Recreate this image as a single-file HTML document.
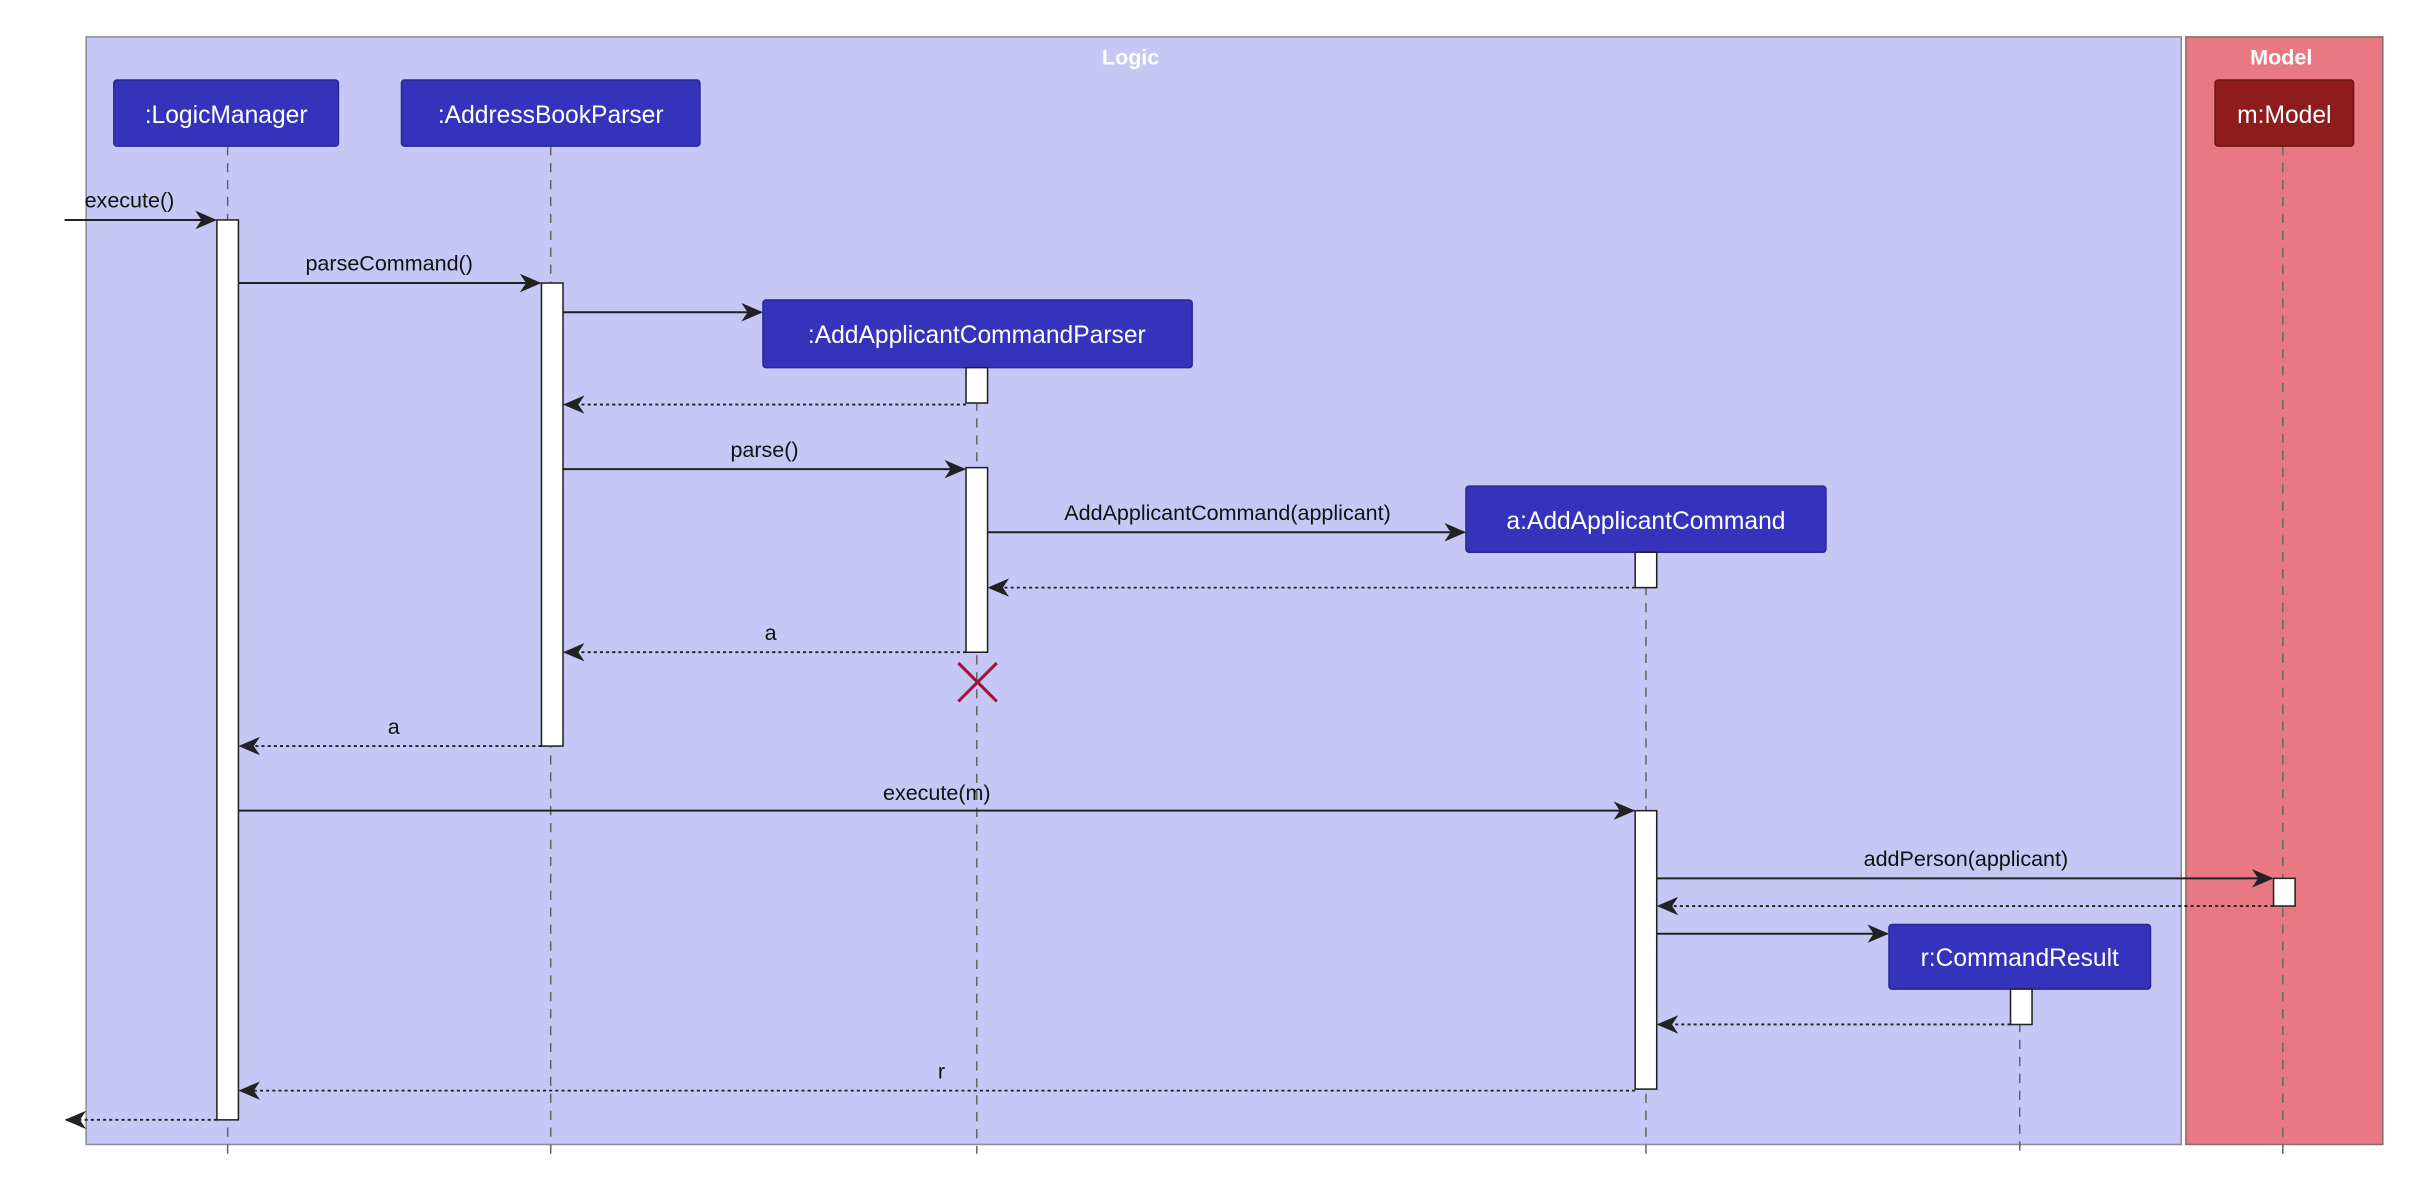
<!DOCTYPE html>
<html><head><meta charset="utf-8"><style>html,body{margin:0;padding:0;background:#fff}svg{display:block}</style></head>
<body>
<svg width="2412" height="1202" viewBox="0 0 1568 781.4" xmlns="http://www.w3.org/2000/svg" font-family="Liberation Sans, sans-serif">
<defs>
<marker id="ah" viewBox="0 0 14 12" refX="13" refY="6" markerWidth="14" markerHeight="12" markerUnits="userSpaceOnUse" orient="auto">
<path d="M0,0 L14,6 L0,12 L4,6 Z" fill="#222"/>
</marker>
</defs>
<rect x="56" y="24" width="1362" height="720" fill="#c6c7f4" stroke="#8a8a9a" stroke-width="1"/>
<text x="735" y="42" font-size="14" font-weight="bold" fill="#fff" text-anchor="middle">Logic</text>
<rect x="1421" y="24" width="128" height="720" fill="#e87882" stroke="#8a6a6a" stroke-width="1"/>
<text x="1483" y="42" font-size="14" font-weight="bold" fill="#fff" text-anchor="middle">Model</text>

<g stroke="#666" stroke-width="1" stroke-dasharray="6,5">
<line x1="148" y1="95" x2="148" y2="750"/>
<line x1="358" y1="95" x2="358" y2="750"/>
<line x1="635" y1="239" x2="635" y2="750"/>
<line x1="1070" y1="359" x2="1070" y2="750"/>
<line x1="1313" y1="643" x2="1313" y2="750"/>
<line x1="1484" y1="95" x2="1484" y2="750"/>
</g>

<g font-size="16" fill="#fff" text-anchor="middle">
<rect x="74" y="52" width="146" height="43" rx="2" fill="#3532bb" stroke="#2a2890"/>
<text x="147" y="80">:LogicManager</text>
<rect x="261" y="52" width="194" height="43" rx="2" fill="#3532bb" stroke="#2a2890"/>
<text x="358" y="80">:AddressBookParser</text>
<rect x="496" y="195" width="279" height="44" rx="2" fill="#3532bb" stroke="#2a2890"/>
<text x="635" y="223">:AddApplicantCommandParser</text>
<rect x="953" y="316" width="234" height="43" rx="2" fill="#3532bb" stroke="#2a2890"/>
<text x="1070" y="344">a:AddApplicantCommand</text>
<rect x="1228" y="601" width="170" height="42" rx="2" fill="#3532bb" stroke="#2a2890"/>
<text x="1313" y="628">r:CommandResult</text>
<rect x="1440" y="52" width="90" height="43" rx="2" fill="#8f1c1c" stroke="#6a1515"/>
<text x="1485" y="80">m:Model</text>
</g>

<g fill="#fff" stroke="#222" stroke-width="1">
<rect x="141" y="143" width="14" height="585"/>
<rect x="352" y="184" width="14" height="301"/>
<rect x="628" y="239" width="14" height="23"/>
<rect x="628" y="304" width="14" height="120"/>
<rect x="1063" y="359" width="14" height="23"/>
<rect x="1063" y="527" width="14" height="181"/>
<rect x="1478" y="571" width="14" height="18"/>
<rect x="1307" y="643" width="14" height="23"/>
</g>

<g stroke="#222" stroke-width="1.3" fill="none" marker-end="url(#ah)">
<line x1="42" y1="143" x2="140" y2="143"/>
<line x1="155" y1="184" x2="351" y2="184"/>
<line x1="366" y1="203" x2="495" y2="203"/>
<line x1="366" y1="305" x2="627" y2="305"/>
<line x1="642" y1="346" x2="952" y2="346"/>
<line x1="155" y1="527" x2="1062" y2="527"/>
<line x1="1077" y1="571" x2="1477" y2="571"/>
<line x1="1077" y1="607" x2="1227" y2="607"/>
</g>
<g stroke="#222" stroke-width="1.2" fill="none" stroke-dasharray="2,2" marker-end="url(#ah)">
<line x1="628" y1="263" x2="367" y2="263"/>
<line x1="1063" y1="382" x2="643" y2="382"/>
<line x1="628" y1="424" x2="367" y2="424"/>
<line x1="352" y1="485" x2="156" y2="485"/>
<line x1="1478" y1="589" x2="1078" y2="589"/>
<line x1="1307" y1="666" x2="1078" y2="666"/>
<line x1="1063" y1="709" x2="156" y2="709"/>
<line x1="141" y1="728" x2="43" y2="728"/>
</g>

<g stroke="#a0163a" stroke-width="2">
<line x1="623" y1="431" x2="648" y2="456"/>
<line x1="648" y1="431" x2="623" y2="456"/>
</g>

<g font-size="14" fill="#111">
<text x="55" y="135">execute()</text>
<text x="253" y="176" text-anchor="middle">parseCommand()</text>
<text x="497" y="297" text-anchor="middle">parse()</text>
<text x="798" y="338" text-anchor="middle">AddApplicantCommand(applicant)</text>
<text x="501" y="416" text-anchor="middle">a</text>
<text x="256" y="477" text-anchor="middle">a</text>
<text x="609" y="520" text-anchor="middle">execute(m)</text>
<text x="1278" y="563" text-anchor="middle">addPerson(applicant)</text>
<text x="612" y="701" text-anchor="middle">r</text>
</g>
</svg>
</body></html>
